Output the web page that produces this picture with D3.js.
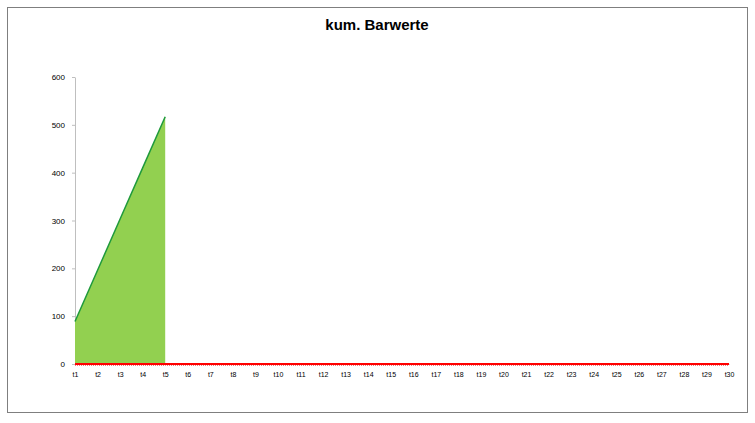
<!DOCTYPE html>
<html>
<head>
<meta charset="utf-8">
<script src="https://cdn.jsdelivr.net/npm/d3@7"></script>
<style>
  body { margin: 0; background: #fff; }
  text { font-family: "Liberation Sans", Arial, sans-serif; }
</style>
</head>
<body>
<svg id="drawing_region"></svg>
<script>
// periods t1..t30
const periods = d3.range(1, 31).map(i => "t" + i);
// cumulative present values (green area), only first five periods filled
const barwerte = [89, 196, 303, 410, 517];
// second series, zero for every period (red line)
const nullLinie = periods.map(() => 0);
const yTicks = [0, 100, 200, 300, 400, 500, 600];

const config = {
  width: 755,
  height: 423,
  margin: {top: 77, right: 26, bottom: 59, left: 75}
};

const svg = d3.select("#drawing_region")
    .attr("width", config.width)
    .attr("height", config.height);

// outer chart frame
svg.append("rect")
    .attr("x", 7.5).attr("y", 7.5)
    .attr("width", 740).attr("height", 405)
    .attr("fill", "#fff")
    .attr("stroke", "#7f7f7f")
    .attr("stroke-width", 1);

svg.append("text")
    .attr("x", 377).attr("y", 30)
    .attr("text-anchor", "middle")
    .attr("font-size", 15)
    .attr("font-weight", "bold")
    .text("kum. Barwerte");

const inner_width = config.width - config.margin.left - config.margin.right;
const inner_height = config.height - config.margin.top - config.margin.bottom;

const chart = svg.append("g")
    .attr("transform", `translate(${config.margin.left}, ${config.margin.top})`);

const xscale = d3.scalePoint()
    .domain(periods)
    .range([0, inner_width - 0]);

const yscale = d3.scaleLinear()
    .domain([0, 600])
    .range([inner_height, 0]);

// y axis
const yaxis = d3.axisLeft(yscale)
    .tickValues(yTicks)
    .tickSize(4)
    .tickPadding(6)
    .tickSizeOuter(0);

const yaxis_group = chart.append("g").call(yaxis);
yaxis_group.select(".domain").attr("stroke", "#bfbfbf");
yaxis_group.selectAll(".tick line").attr("stroke", "#bfbfbf").attr("x2", 0).attr("x1", -3);
yaxis_group.selectAll(".tick text").attr("font-size", 8).attr("fill", "#000")
    .attr("font-family", "Liberation Sans, Arial, sans-serif");

// x axis
const xaxis = d3.axisBottom(xscale)
    .tickSize(0)
    .tickPadding(8)
    .tickSizeOuter(0);

const xaxis_group = chart.append("g")
    .attr("transform", `translate(0, ${inner_height})`)
    .call(xaxis);
xaxis_group.select(".domain").attr("stroke", "#bfbfbf");
xaxis_group.selectAll(".tick text").attr("font-size", 7).attr("fill", "#000")
    .attr("font-family", "Liberation Sans, Arial, sans-serif");

// green area
const areaData = barwerte.map((v, i) => ({label: periods[i], value: v}));
chart.append("path")
    .datum(areaData)
    .attr("fill", "#92d050")
    .attr("d", d3.area()
        .x(d => xscale(d.label))
        .y0(yscale(0))
        .y1(d => yscale(d.value)));

chart.append("path")
    .datum(areaData)
    .attr("fill", "none")
    .attr("stroke", "#1f9a3c")
    .attr("stroke-width", 1.5)
    .attr("d", d3.line()
        .x(d => xscale(d.label))
        .y(d => yscale(d.value)));

// red zero series
const redData = nullLinie.map((v, i) => ({label: periods[i], value: v}));
const redLine = d3.line()
    .x(d => xscale(d.label))
    .y(d => yscale(d.value));

chart.append("path")
    .datum(redData)
    .attr("fill", "none")
    .attr("stroke", "#ff0000")
    .attr("stroke-width", 2)
    .attr("d", redLine);

chart.append("path")
    .datum(redData)
    .attr("transform", "translate(0, 1.5)")
    .attr("fill", "none")
    .attr("stroke", "#f08080")
    .attr("stroke-width", 1)
    .attr("stroke-dasharray", "1,1")
    .attr("d", redLine);
</script>
</body>
</html>
